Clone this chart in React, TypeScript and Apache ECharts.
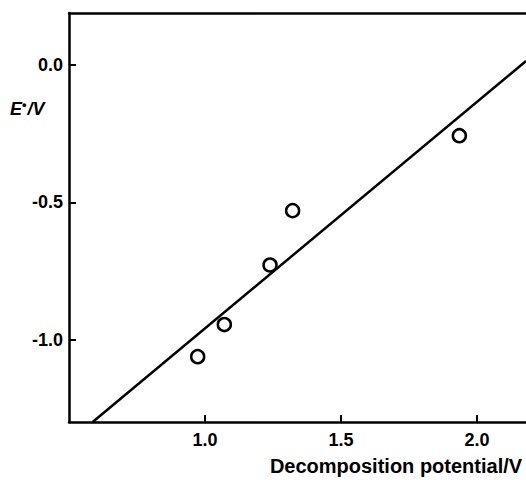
import React, { useEffect, useRef } from "react";
import * as echarts from "echarts";

const pointsX = [0.973, 1.071, 1.239, 1.322, 1.935];
const pointsY = [-1.062, -0.945, -0.728, -0.53, -0.257];
const fitX = [0.587, 2.18];
const fitY = [-1.3, 0.015];
const xTicks = [1.0, 1.5, 2.0];
const yTicks = [-1.0, -0.5, 0.0];
const xTitle = "Decomposition potential/V";

export default function App() {
  const ref = useRef<HTMLDivElement>(null);
  useEffect(() => {
    document.body.style.margin = "0";
    const chart = echarts.init(ref.current!, null, { renderer: "svg" });
    const font = "'Liberation Sans', Arial, sans-serif";
    chart.setOption({
      animation: false,
      backgroundColor: "#ffffff",
      grid: { left: 69, top: 13, right: 0, bottom: 58, containLabel: false },
      xAxis: [
        {
          type: "value",
          min: 0.5,
          max: 2.18,
          splitLine: { show: false },
          axisLine: { show: true, onZero: false, lineStyle: { color: "#000", width: 2.5 } },
          axisTick: { show: true, inside: true, length: 7, customValues: xTicks, lineStyle: { color: "#000", width: 2 } },
          axisLabel: {
            customValues: xTicks,
            formatter: (v: number) => v.toFixed(1),
            color: "#000",
            fontFamily: font,
            fontWeight: "bold",
            fontSize: 18,
            margin: 9,
          },
        },
        {
          type: "value",
          position: "top",
          min: 0.5,
          max: 2.18,
          splitLine: { show: false },
          axisLine: { show: true, onZero: false, lineStyle: { color: "#000", width: 2.5 } },
          axisTick: { show: false },
          axisLabel: { show: false },
        },
      ],
      yAxis: {
        type: "value",
        min: -1.3,
        max: 0.19,
        splitLine: { show: false },
        axisLine: { show: true, onZero: false, lineStyle: { color: "#000", width: 2.5 } },
        axisTick: { show: true, inside: true, length: 7, customValues: yTicks, lineStyle: { color: "#000", width: 2 } },
        axisLabel: {
          customValues: yTicks,
          formatter: (v: number) => v.toFixed(1),
          color: "#000",
          fontFamily: font,
          fontWeight: "bold",
          fontSize: 18,
          margin: 6,
        },
      },
      graphic: [
        {
          type: "text",
          left: 10,
          top: 98,
          style: {
            text: "{e|E}{d|•}{v|/V}",
            rich: {
              e: { fontFamily: font, fontWeight: "bold", fontStyle: "italic", fontSize: 18, fill: "#000" },
              d: { fontFamily: font, fontWeight: "bold", fontSize: 13, fill: "#000", verticalAlign: "top", padding: [0, 1, 8, 0] },
              v: { fontFamily: font, fontWeight: "bold", fontStyle: "italic", fontSize: 18, fill: "#000" },
            },
          },
        },
        {
          type: "text",
          x: 396,
          y: 466,
          style: {
            text: xTitle,
            fontFamily: font,
            fontWeight: "bold",
            fontSize: 20,
            fill: "#000",
            align: "center",
            verticalAlign: "middle",
          },
        },
      ],
      series: [
        {
          type: "line",
          data: fitX.map((x, i) => [x, fitY[i]]),
          symbol: "none",
          lineStyle: { color: "#000", width: 2.5 },
          silent: true,
        },
        {
          type: "scatter",
          data: pointsX.map((x, i) => [x, pointsY[i]]),
          symbol: "circle",
          symbolSize: 13,
          itemStyle: { color: "#fff", borderColor: "#000", borderWidth: 2.5, opacity: 1 },
        },
      ],
    });
    return () => chart.dispose();
  }, []);
  return <div ref={ref} style={{ position: "fixed", left: 0, top: 0, width: 526, height: 480 }} />;
}
